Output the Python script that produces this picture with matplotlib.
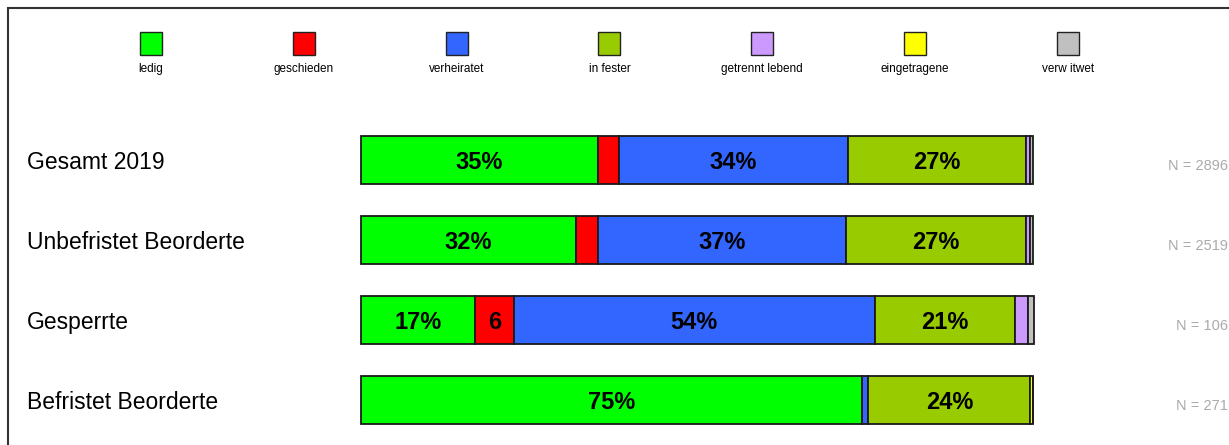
import matplotlib
matplotlib.use("Agg")
from matplotlib import pyplot as plt
from matplotlib.patches import Rectangle
from matplotlib import transforms
import numpy as np

plt.rcParams['font.family'] = ['Liberation Sans', 'DejaVu Sans']

# %% data (percent per group)
groups = ['Gesamt 2019', 'Unbefristet Beorderte', 'Gesperrte', 'Befristet Beorderte']
n_labels = ['N = 2896', 'N = 2519', 'N = 106', 'N = 271']
categories = ['ledig', 'geschieden', 'verheiratet', 'in fester', 'getrennt lebend', 'eingetragene', 'verw itwet']
ledig = [35.3, 32.0, 17.0, 74.6]
geschieden = [3.1, 3.3, 5.7, 0.0]
verheiratet = [34.0, 36.8, 53.8, 0.9]
in_fester = [26.6, 26.9, 20.8, 24.1]
getrennt = [0.5, 0.5, 1.9, 0.0]
eingetragene = [0.1, 0.1, 0.0, 0.4]
verwitwet = [0.4, 0.4, 0.9, 0.0]
series = [ledig, geschieden, verheiratet, in_fester, getrennt, eingetragene, verwitwet]
colors = ['#00FF00', '#FF0000', '#3366FF', '#99CC00', '#CC99FF', '#FFFF00', '#C0C0C0']

W, H = 1229, 445
fig = plt.figure(figsize=(W / 100, H / 100), dpi=100)
ax = fig.add_axes([361 / W, 5 / H, 672 / W, 320 / H])

y = np.arange(len(groups))
left = np.zeros(len(groups))
for vals, col in zip(series, colors):
    vals = np.array(vals)
    bars = ax.barh(y, vals, left=left, height=0.6, color=col, edgecolor='#1a1a1a', linewidth=1.3)
    for b in bars:
        b.set_clip_on(False)
    for yi, v, l in zip(y, vals, left):
        if v >= 10:
            ax.text(l + v / 2, yi, f'{v:.0f}%', ha='center', va='center_baseline', fontsize=17, fontweight='bold')
        elif v >= 5:
            ax.text(l + v / 2, yi, f'{v:.0f}', ha='center', va='center_baseline', fontsize=17, fontweight='bold')
    left += vals

ax.set_xlim(0, 100)
ax.set_ylim(3.5, -0.5)
ax.axis('off')

# row labels and N
tr = transforms.blended_transform_factory(fig.transFigure, ax.transData)
for yi, g, n in zip(y, groups, n_labels):
    ax.text(27 / W, yi, g, transform=tr, ha='left', va='center_baseline', fontsize=16.5, clip_on=False)
    ax.text(1228 / W, yi + 0.05, n, transform=tr, ha='right', va='center_baseline', fontsize=10.5, color='#AAAAAA', clip_on=False)

# legend: squares with labels beneath
for i, (cat, col) in enumerate(zip(categories, colors)):
    cx = 151 + i * 152.8
    fig.patches.append(Rectangle(((cx - 11) / W, 1 - 55 / H), 22 / W, 23 / H, transform=fig.transFigure,
                                 facecolor=col, edgecolor='#222222', linewidth=1.0))
    fig.text(cx / W, 1 - 69 / H, cat, ha='center', va='center', fontsize=8.5)

# outer frame (partly outside the image)
fig.patches.append(Rectangle((8 / W, -0.2), 1.2, 1 - 8 / H + 0.2, transform=fig.transFigure,
                             facecolor='none', edgecolor='#333333', linewidth=1.5))

fig.savefig('out.png', dpi=100)
